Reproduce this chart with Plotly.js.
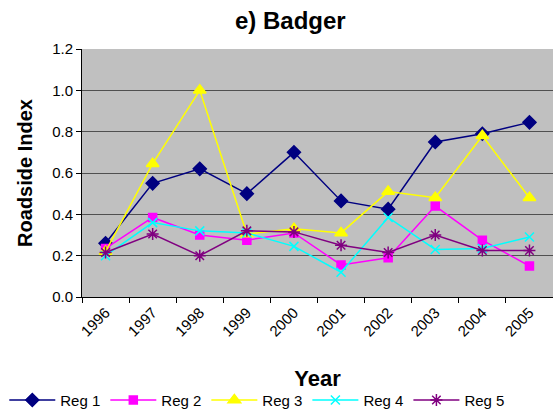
<!DOCTYPE html>
<html><head><meta charset="utf-8">
<script src="https://cdn.plot.ly/plotly-3.0.1.min.js"></script>
<style>html,body{margin:0;padding:0;background:#fff}#c{width:553px;height:417px}</style>
</head><body><div id="c"></div>
<script>
const years = ['1996','1997','1998','1999','2000','2001','2002','2003','2004','2005'];
const reg1 = [0.26, 0.55, 0.62, 0.50, 0.70, 0.465, 0.425, 0.75, 0.79, 0.845];
const reg2 = [0.235, 0.385, 0.30, 0.275, 0.31, 0.155, 0.19, 0.44, 0.275, 0.15];
const reg3 = [0.22, 0.645, 1.0, 0.305, 0.33, 0.31, 0.51, 0.48, 0.78, 0.48];
const reg4 = [0.20, 0.36, 0.32, 0.31, 0.245, 0.12, 0.385, 0.23, 0.235, 0.29];
const reg5 = [0.215, 0.305, 0.20, 0.32, 0.315, 0.25, 0.215, 0.30, 0.225, 0.225];

const F = 'Arial, "Liberation Sans", sans-serif';
function tr(name, y, color, symbol, size){
  return {x: years, y: y, name: name, type: 'scatter', mode: 'lines+markers',
    line: {color: color, width: 1.5},
    marker: {color: color, symbol: symbol, size: size, line: {color: color, width: 1.5}}};
}
const data = [
  tr('Reg 1', reg1, '#000080', 'diamond', 10),
  tr('Reg 2', reg2, '#FF00FF', 'square', 8),
  tr('Reg 3', reg3, '#FFFF00', 'triangle-up', 11),
  tr('Reg 4', reg4, '#00FFFF', 'x-thin-open', 9),
  tr('Reg 5', reg5, '#800080', 'asterisk-open', 10)
];
const layout = {
  width: 553, height: 417,
  margin: {l: 82, r: 0, t: 49, b: 118},
  paper_bgcolor: '#fff', plot_bgcolor: '#C0C0C0',
  font: {family: F, color: '#000', size: 15},
  title: {text: '<b>e) Badger</b>', font: {family: F, size: 24, color: '#000'}, x: 0.525, xanchor: 'center', y: 0.95, yanchor: 'middle'},
  xaxis: {type: 'category', tickson: 'boundaries', ticks: 'outside', ticklen: 5, tickcolor: '#000',
    showline: true, linecolor: '#000', linewidth: 1, showgrid: false, tickangle: -45, automargin: false,
    tickfont: {family: F, size: 15}, range: [-0.5, 9.5],
    title: {text: '<b>Year</b>', font: {family: F, size: 22}, standoff: 32}},
  yaxis: {range: [0, 1.2], dtick: 0.2, tickformat: '.1f', ticks: 'outside', ticklen: 5, tickcolor: '#000',
    showline: true, linecolor: '#000', linewidth: 1, gridcolor: '#505050', gridwidth: 1, zeroline: false,
    tickfont: {family: F, size: 15}, automargin: false,
    title: {text: '<b>Roadside Index</b>', font: {family: F, size: 20}, standoff: 14}},
  showlegend: true,
  legend: {orientation: 'h', x: -0.165, xanchor: 'left', y: -0.35, yanchor: 'top',
    font: {family: F, size: 15}, itemwidth: 46, tracegroupgap: 0}
};
Plotly.newPlot('c', data, layout, {displayModeBar: false, staticPlot: true});
</script></body></html>
